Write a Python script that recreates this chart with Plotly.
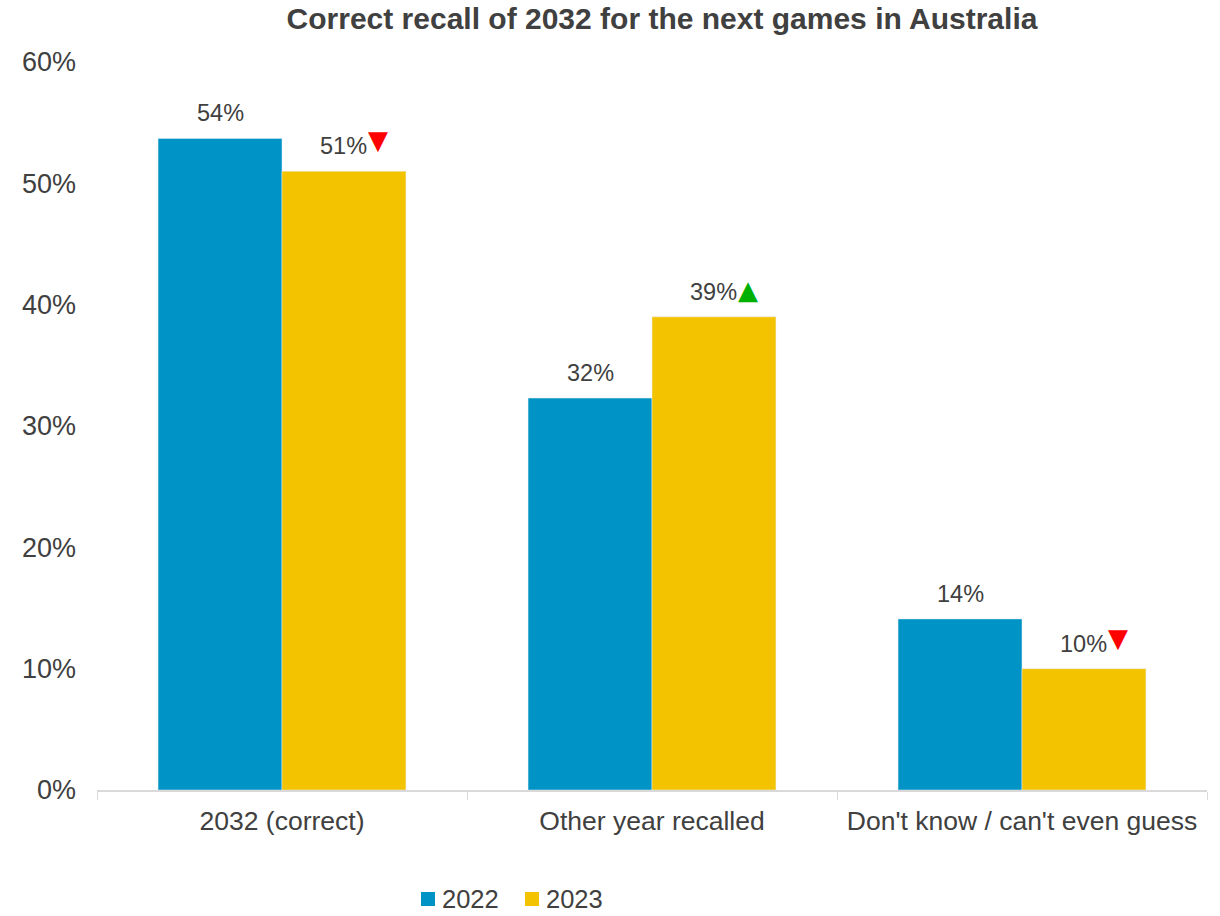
import plotly.graph_objects as go

categories = ["2032 (correct)", "Other year recalled", "Don't know / can't even guess"]
series_names = ["2022", "2023"]
values_2022 = [0.537, 0.323, 0.141]
values_2023 = [0.510, 0.390, 0.100]
labels_2022 = ["54%", "32%", "14%"]
labels_2023 = ["51%", "39%", "10%"]
change_2023 = ["down", "up", "down"]  # significance markers vs 2022
y_ticks = [0, 0.1, 0.2, 0.3, 0.4, 0.5, 0.6]
y_tick_labels = ["0%", "10%", "20%", "30%", "40%", "50%", "60%"]

BLUE = "#0093C5"
YELLOW = "#F3C300"
TEXT = "#404040"
FONT = "Liberation Sans, Arial, sans-serif"

# layout constants (styling)
W, H = 1220, 916
ML, MR, MT, MB = 97, 13, 62, 126
BARGAP = 0.33
plot_w = W - ML - MR
plot_h = H - MT - MB
bar_px = plot_w / len(categories) * (1 - BARGAP) / 2
half = bar_px / 2


def px_x(px):
    return (px - ML) / plot_w


def px_y(py):
    return (H - MB - py) / plot_h


fig = go.Figure()
fig.add_trace(go.Bar(name=series_names[0], x=categories, y=values_2022, marker_color=BLUE))
fig.add_trace(go.Bar(name=series_names[1], x=categories, y=values_2023, marker_color=YELLOW))

label_font = dict(size=23.5, color=TEXT, family=FONT)
for cat, val, lab in zip(categories, values_2022, labels_2022):
    fig.add_annotation(x=cat, y=val, xref="x", yref="y", text=lab, showarrow=False,
                       xshift=-half, yshift=10, yanchor="bottom", font=label_font)
for cat, val, lab, ch in zip(categories, values_2023, labels_2023, change_2023):
    fig.add_annotation(x=cat, y=val, xref="x", yref="y", text=lab, showarrow=False,
                       xshift=half, yshift=10, yanchor="bottom", font=label_font)
    fig.add_annotation(
        x=cat, y=val, xref="x", yref="y",
        text="▼" if ch == "down" else "▲",
        showarrow=False, xshift=half + 34, yshift=31 if ch == "down" else 27,
        font=dict(size=26, color="#FF0000" if ch == "down" else "#00B000",
                  family="DejaVu Sans"),
    )

# legend drawn below the plot (square swatch + label)
legend_left_px = [421, 525]
LEG_CY = 899
for name, color, lx in zip(series_names, [BLUE, YELLOW], legend_left_px):
    fig.add_shape(type="rect", xref="paper", yref="paper",
                  x0=px_x(lx), x1=px_x(lx + 14), y0=px_y(LEG_CY + 7), y1=px_y(LEG_CY - 7),
                  fillcolor=color, line=dict(width=0))
    fig.add_annotation(xref="paper", yref="paper", x=px_x(lx + 19), y=px_y(LEG_CY),
                       xanchor="left", yanchor="middle", text=name, showarrow=False,
                       font=dict(size=25.5, color=TEXT, family=FONT))

fig.update_layout(
    width=W, height=H,
    margin=dict(l=ML, r=MR, t=MT, b=MB, autoexpand=False),
    paper_bgcolor="white", plot_bgcolor="white",
    font=dict(family=FONT, color=TEXT, size=26.5),
    title=dict(text="<b>Correct recall of 2032 for the next games in Australia</b>",
               x=662 / W, xanchor="center", y=1 - 18 / H, yanchor="middle",
               font=dict(size=30, color=TEXT, family=FONT)),
    barmode="group", bargap=BARGAP, bargroupgap=0,
    showlegend=False,
    xaxis=dict(showline=True, linecolor="#D9D9D9", linewidth=1.5,
               ticks="outside", tickson="boundaries", ticklen=8, tickcolor="#D9D9D9",
               ticklabelstandoff=6,
               tickfont=dict(size=26.5, color=TEXT, family=FONT), showgrid=False),
    yaxis=dict(range=[0, 0.6], tickvals=y_ticks, ticktext=y_tick_labels,
               showgrid=False, showline=False, zeroline=False,
               ticklabelstandoff=20,
               tickfont=dict(size=27, color=TEXT, family=FONT), ticklen=0),
)

fig.write_html("out.html", config={"displayModeBar": False},
               post_script="document.body.style.margin='0';document.body.style.overflow='hidden';")
